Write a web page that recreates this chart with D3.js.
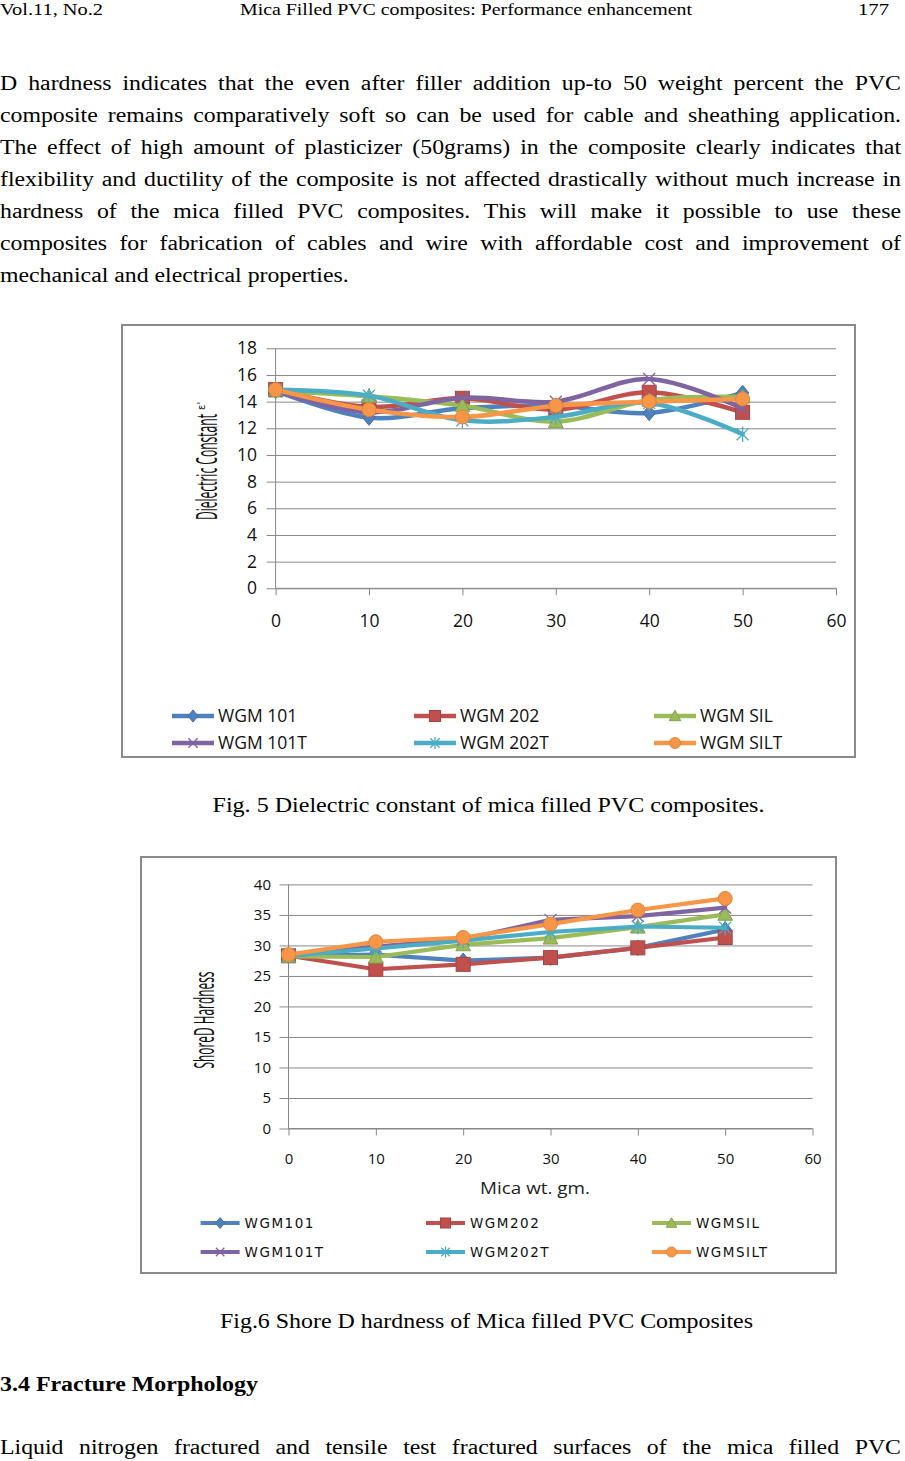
<!DOCTYPE html>
<html>
<head>
<meta charset="utf-8">
<script src="https://cdn.jsdelivr.net/npm/d3@7"></script>
<style>
  html, body { margin: 0; padding: 0; background: #ffffff; }
  svg { display: block; }
</style>
</head>
<body>
<script>
// ---------------- DATA ----------------
const micaWt = [0, 10, 20, 30, 40, 50];
const xTickValues = [0, 10, 20, 30, 40, 50, 60];

// Fig. 5 – Dielectric constant
const fig5Names = ["WGM 101", "WGM 202", "WGM SIL", "WGM 101T", "WGM 202T", "WGM SILT"];
const dc101  = [14.8, 12.8, 13.5, 13.7, 13.15, 14.65];
const dc202  = [14.9, 13.6, 14.25, 13.4, 14.7, 13.2];
const dcSIL  = [14.8, 14.4, 13.7, 12.5, 14.1, 14.35];
const dc101T = [14.8, 13.2, 14.3, 14.0, 15.7, 13.5];
const dc202T = [14.9, 14.45, 12.6, 12.85, 13.9, 11.55];
const dcSILT = [14.9, 13.4, 12.85, 13.7, 14.0, 14.2];
const fig5YTicks = [0, 2, 4, 6, 8, 10, 12, 14, 16, 18];

// Fig. 6 – Shore D hardness
const fig6Names = ["WGM101", "WGM202", "WGMSIL", "WGM101T", "WGM202T", "WGMSILT"];
const sh101  = [28.3, 28.5, 27.5, 28.0, 29.6, 32.6];
const sh202  = [28.3, 26.1, 26.9, 28.0, 29.6, 31.3];
const shSIL  = [28.2, 28.1, 30.1, 31.2, 33.0, 35.1];
const sh101T = [28.3, 29.8, 31.0, 34.2, 34.8, 36.2];
const sh202T = [28.3, 29.5, 30.8, 32.2, 33.1, 32.9];
const shSILT = [28.5, 30.6, 31.3, 33.5, 35.8, 37.7];
const fig6YTicks = [0, 5, 10, 15, 20, 25, 30, 35, 40];

const seriesColors = ["#4F81BD", "#C0504D", "#9BBB59", "#8064A2", "#4BACC6", "#F79646"];
const markerTypes = ["diamond", "square", "triangle", "x", "asterisk", "circle"];

// Page text
const headerLeft = "Vol.11, No.2";
const headerCenter = "Mica Filled PVC composites: Performance enhancement";
const headerRight = "177";
const paragraphLines = [
  "D hardness indicates that the even after filler addition up-to 50 weight percent the PVC",
  "composite remains comparatively soft so can be used for cable and sheathing application.",
  "The effect of high amount of plasticizer (50grams) in the composite clearly indicates that",
  "flexibility and ductility of the composite is not affected drastically without much increase in",
  "hardness of the mica filled PVC composites. This will make it possible to use these",
  "composites for fabrication of cables and wire with affordable cost and improvement of",
  "mechanical and electrical properties."
];
const caption5 = "Fig. 5 Dielectric constant of mica filled PVC composites.";
const caption6 = "Fig.6 Shore D hardness of Mica filled PVC Composites";
const heading34 = "3.4 Fracture Morphology";
const lastLine = "Liquid nitrogen fractured and tensile test fractured surfaces of the mica filled PVC";

// ---------------- PAGE ----------------
const svg = d3.select("body").append("svg").attr("width", 905).attr("height", 1461);
svg.append("rect").attr("width", 905).attr("height", 1461).attr("fill", "#fff");

const serif = "'Liberation Serif', 'Times New Roman', serif";

function measure(str, size) {
  const t = svg.append("text").attr("font-family", serif).attr("font-size", size).text(str);
  const w = t.node().getComputedTextLength();
  t.remove();
  return w;
}
// horizontal stretch of the page's serif text (last paragraph line ends near x = 349)
const k = 349 / measure(paragraphLines[paragraphLines.length - 1], 20);

function justified(str, x0, x1, y, size) {
  const words = str.split(" ");
  const g = svg.append("g").attr("transform", `scale(${k},1)`);
  const t = g.append("text").attr("y", y)
    .attr("font-family", serif).attr("font-size", size).attr("fill", "#000");
  const spans = words.map(w => t.append("tspan").text(w));
  const widths = spans.map(s => s.node().getComputedTextLength() * k);
  const gap = (x1 - x0 - d3.sum(widths)) / (words.length - 1);
  let x = x0;
  spans.forEach((s, i) => { s.attr("x", x / k); x += widths[i] + gap; });
}
function stretched(str, x, y, size) {
  svg.append("g").attr("transform", `scale(${k},1)`).append("text")
    .attr("x", x / k).attr("y", y).attr("font-family", serif).attr("font-size", size)
    .attr("fill", "#000").text(str);
}
function plain(str, x, y, size, opts) {
  opts = opts || {};
  const t = svg.append("text").attr("x", x).attr("y", y)
    .attr("font-family", opts.family || serif).attr("font-size", size)
    .attr("font-weight", opts.weight || "normal")
    .attr("text-anchor", opts.anchor || "start").attr("fill", "#000").text(str);
  if (opts.len) t.attr("textLength", opts.len).attr("lengthAdjust", "spacingAndGlyphs");
  return t;
}

// header
plain(headerLeft, 0, 15, 17.5, {len: 103});
plain(headerCenter, 240, 15, 17.5, {len: 452});
plain(headerRight, 858, 15, 17.5, {len: 31});

// paragraph
paragraphLines.forEach((l, i) => {
  const y = 90.5 + 32 * i;
  if (i < paragraphLines.length - 1) justified(l, 0, 901, y, 20);
  else stretched(l, 0, y, 20);
});

plain(caption5, 212.5, 812, 20.5, {len: 552});
plain(caption6, 220, 1328, 20.5, {len: 533});
plain(heading34, 0, 1391, 20.5, {weight: "bold", len: 258});
justified(lastLine, 0, 901, 1454, 20);

// ---------------- CHARTS ----------------
function marker(g, type, cx, cy, s, color) {
  const h = s / 2;
  if (type === "diamond") {
    g.append("path").attr("d", `M${cx},${cy - h * 1.1}L${cx + h * 0.9},${cy}L${cx},${cy + h * 1.1}L${cx - h * 0.9},${cy}Z`)
      .attr("fill", color).attr("stroke", d3.color(color).darker(0.4));
  } else if (type === "square") {
    g.append("rect").attr("x", cx - h).attr("y", cy - h).attr("width", s).attr("height", s)
      .attr("fill", color).attr("stroke", d3.color(color).darker(0.4));
  } else if (type === "triangle") {
    g.append("path").attr("d", `M${cx},${cy - h * 1.05}L${cx + h * 1.05},${cy + h * 0.85}L${cx - h * 1.05},${cy + h * 0.85}Z`)
      .attr("fill", color).attr("stroke", d3.color(color).darker(0.4));
  } else if (type === "x" || type === "asterisk") {
    const a = h * 0.85;
    let d = `M${cx - a},${cy - a}L${cx + a},${cy + a}M${cx - a},${cy + a}L${cx + a},${cy - a}`;
    if (type === "asterisk") d += `M${cx},${cy - h * 1.1}L${cx},${cy + h * 1.1}`;
    g.append("path").attr("d", d).attr("stroke", color).attr("stroke-width", 1.3).attr("fill", "none");
  } else if (type === "circle") {
    g.append("circle").attr("cx", cx).attr("cy", cy).attr("r", h)
      .attr("fill", color).attr("stroke", d3.color(color).darker(0.3));
  }
}

function drawChart(cfg) {
  const g = svg.append("g");
  const gridColor = "#878787";
  g.append("rect").attr("x", cfg.box[0]).attr("y", cfg.box[1])
    .attr("width", cfg.box[2] - cfg.box[0]).attr("height", cfg.box[3] - cfg.box[1])
    .attr("fill", "#fff").attr("stroke", "#8a8a8a").attr("stroke-width", 2);

  const x = d3.scaleLinear().domain([0, 60]).range(cfg.xRange);
  const y = d3.scaleLinear().domain([0, cfg.yMax]).range(cfg.yRange);
  const plotW = cfg.xRange[1] - cfg.xRange[0];

  const ya = g.append("g").attr("transform", `translate(${cfg.xRange[0]},0)`)
    .call(d3.axisLeft(y).tickValues(cfg.yTicks).tickSize(-plotW).tickPadding(cfg.yPad).tickFormat(d3.format("d")));
  ya.select(".domain").remove();
  ya.selectAll(".tick line").attr("x1", -9).attr("stroke", gridColor);
  ya.selectAll(".tick text").attr("font-family", cfg.tickFont).attr("font-size", cfg.yTickSize).attr("fill", "#111");

  const xa = g.append("g").attr("transform", `translate(0,${cfg.yRange[0]})`)
    .call(d3.axisBottom(x).tickValues(xTickValues).tickSize(7).tickPadding(cfg.xPad).tickFormat(d3.format("d")));
  xa.select(".domain").attr("stroke", gridColor).attr("d", `M${cfg.xRange[0]},0H${cfg.xRange[1]}`);
  xa.selectAll(".tick line").attr("stroke", gridColor);
  xa.selectAll(".tick text").attr("font-family", cfg.tickFont).attr("font-size", cfg.xTickSize).attr("fill", "#111");

  g.append("line").attr("x1", cfg.xRange[0]).attr("x2", cfg.xRange[0])
    .attr("y1", cfg.yRange[0]).attr("y2", cfg.yRange[1]).attr("stroke", gridColor);

  g.append("text").attr("transform", `translate(${cfg.yTitlePos[0]},${cfg.yTitlePos[1]}) rotate(-90)`)
    .attr("text-anchor", "middle").attr("font-family", "'Open Sans', sans-serif")
    .attr("font-size", cfg.yTitleSize).attr("fill", "#111")
    .attr("textLength", cfg.yTitleLen).attr("lengthAdjust", "spacingAndGlyphs").text(cfg.yTitle);
  if (cfg.yTitleSup) {
    g.append("text").attr("transform", `translate(${cfg.yTitlePos[0] - 12},${cfg.yTitlePos[1] - cfg.yTitleLen / 2 - 4}) rotate(-90)`)
      .attr("text-anchor", "start").attr("font-family", "'DejaVu Sans', sans-serif")
      .attr("font-size", 10).attr("fill", "#111").text(cfg.yTitleSup);
  }
  if (cfg.xTitle) {
    g.append("text").attr("x", cfg.xTitlePos[0]).attr("y", cfg.xTitlePos[1])
      .attr("text-anchor", "middle").attr("font-family", "'Open Sans', sans-serif")
      .attr("font-size", 17).attr("fill", "#222")
      .attr("textLength", cfg.xTitleLen).attr("lengthAdjust", "spacingAndGlyphs").text(cfg.xTitle);
  }

  const line = d3.line().x((d, i) => x(micaWt[i])).y(d => y(d)).curve(cfg.curve);
  cfg.series.forEach((vals, si) => {
    const sg = g.append("g");
    sg.append("path").attr("d", line(vals)).attr("fill", "none")
      .attr("stroke", seriesColors[si]).attr("stroke-width", cfg.lineW)
      .attr("stroke-linecap", "round").attr("stroke-linejoin", "round");
    vals.forEach((v, i) => marker(sg, markerTypes[si], x(micaWt[i]), y(v), cfg.markerSize, seriesColors[si]));
  });

  cfg.names.forEach((name, i) => {
    const col = i % 3, row = Math.floor(i / 3);
    const lx = cfg.legCols[col], ly = cfg.legRows[row];
    const lg = g.append("g");
    lg.append("line").attr("x1", lx).attr("x2", lx + cfg.legLen).attr("y1", ly).attr("y2", ly)
      .attr("stroke", seriesColors[i]).attr("stroke-width", cfg.lineW);
    marker(lg, markerTypes[i], lx + cfg.legLen / 2, ly, cfg.legMarker, seriesColors[i]);
    lg.append("text").attr("x", lx + cfg.legLen + cfg.legGap).attr("y", ly).attr("dy", "0.36em")
      .attr("font-family", cfg.legFont).attr("font-size", cfg.legSize).attr("fill", "#111")
      .attr("letter-spacing", cfg.legSpacing || 0).text(name);
  });
}

drawChart({
  box: [122, 325, 855, 757],
  xRange: [275.6, 836], yRange: [588.3, 348.3], yMax: 18, yTicks: fig5YTicks,
  yPad: 18.6, xPad: 19.5, tickFont: "'Open Sans', sans-serif", yTickSize: 17.5, xTickSize: 17.5,
  yTitle: "Dielectric Constant", yTitleSup: "ε'", yTitlePos: [217, 467], yTitleSize: 30, yTitleLen: 106,
  series: [dc101, dc202, dcSIL, dc101T, dc202T, dcSILT], names: fig5Names,
  curve: d3.curveCardinal.tension(0), lineW: 4.5, markerSize: 14,
  legCols: [172, 414, 654], legRows: [716, 743], legLen: 42, legGap: 4, legMarker: 11,
  legFont: "'Open Sans', sans-serif", legSize: 17.5
});

drawChart({
  box: [141, 857, 836, 1273],
  xRange: [288.5, 812.5], yRange: [1128.5, 884.4], yMax: 40, yTicks: fig6YTicks,
  yPad: 17.5, xPad: 17.5, tickFont: "'Open Sans', sans-serif", yTickSize: 15, xTickSize: 15,
  yTitle: "ShoreD  Hardness", yTitlePos: [214, 1020], yTitleSize: 27, yTitleLen: 97,
  xTitle: "Mica wt. gm.", xTitlePos: [535, 1193.5], xTitleLen: 110,
  series: [sh101, sh202, shSIL, sh101T, sh202T, shSILT], names: fig6Names,
  curve: d3.curveLinear, lineW: 4.2, markerSize: 14,
  legCols: [200.6, 426, 652], legRows: [1223, 1252], legLen: 39, legGap: 5, legMarker: 10,
  legFont: "'DejaVu Sans', sans-serif", legSize: 13.5, legSpacing: 1.5
});
</script>
</body>
</html>
